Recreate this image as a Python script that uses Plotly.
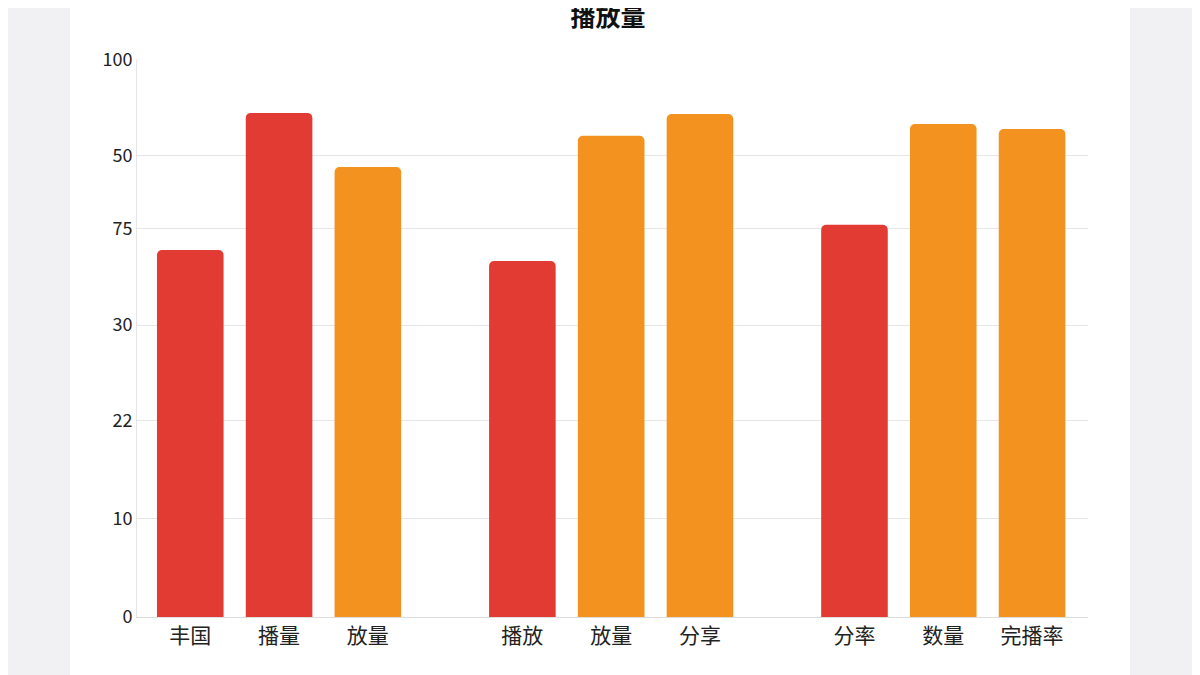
import plotly.graph_objects as go

categories = ["丰国", "播量", "放量", "播放", "放量", "分享", "分率", "数量", "完播率"]
groups = [0, 0, 0, 1, 1, 1, 2, 2, 2]
values = [65.9, 90.5, 80.8, 63.9, 86.4, 90.3, 70.4, 88.5, 87.6]
kinds = ["red", "red", "orange", "red", "orange", "orange", "red", "orange", "orange"]

tick_pos = [0, 17.6, 35.2, 52.4, 69.8, 82.9, 100]
tick_text = ["0", "10", "22", "30", "75", "50", "100"]

palette = {"red": "#e23b34", "orange": "#f3921f"}
x = [i + g * 0.74 for i, g in enumerate(groups)]

# the page adds an 8px body margin, so the figure is offset by 8px
fig = go.Figure(go.Bar(
    x=x, y=values,
    width=0.75,
    marker=dict(color=[palette[k] for k in kinds], cornerradius=5, line=dict(width=0)),
))

plot_w = 951
fig.update_layout(
    width=1200, height=675,
    paper_bgcolor="#f1f1f3", plot_bgcolor="white",
    margin=dict(l=129, r=120, t=52, b=66),
    font=dict(family="Noto Sans CJK SC", color="#222"),
    title=dict(text="<b>播放量</b>", x=0.5, y=0.999, yanchor="top",
               font=dict(size=25, color="#111")),
    showlegend=False,
    shapes=[dict(type="rect", xref="paper", yref="paper",
                 x0=(62 - 129) / plot_w, x1=(1122 - 129) / plot_w, y0=-0.3, y1=1.3,
                 fillcolor="white", line=dict(width=0), layer="below")],
)

fig.update_xaxes(
    range=[-0.6, x[-1] + 0.63],
    tickvals=x, ticktext=categories,
    tickfont=dict(size=21), showgrid=False, ticks="",
    showline=True, linecolor="#ddd",
)
fig.update_yaxes(
    range=[0, 100], tickvals=tick_pos, ticktext=tick_text,
    tickfont=dict(size=18), gridcolor="#e6e6e6", zeroline=False,
    showline=True, linecolor="#e6e6e6", ticks="",
)

fig.write_html("out.html")
